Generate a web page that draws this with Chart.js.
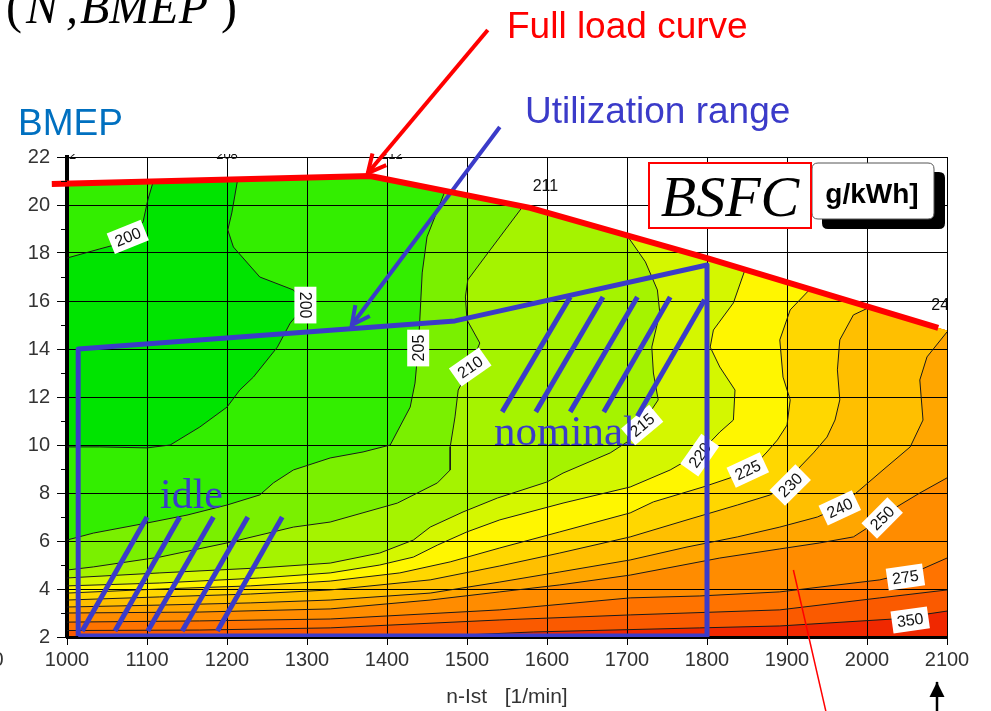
<!DOCTYPE html>
<html>
<head>
<meta charset="utf-8">
<title>BSFC map</title>
<script src="https://cdn.jsdelivr.net/npm/chart.js@4.4.1/dist/chart.umd.min.js"></script>
<style>
  html, body { margin: 0; padding: 0; background: #fff; }
  canvas { display: block; }
</style>
</head>
<body>
<canvas id="myChart" width="991" height="711"></canvas>
<script>
// axis ticks
const rpmTicks = [1000, 1100, 1200, 1300, 1400, 1500, 1600, 1700, 1800, 1900, 2000, 2100];
const bmepTicks = [2, 4, 6, 8, 10, 12, 14, 16, 18, 20, 22];
const bmepMinor = [3, 5, 7, 9, 11, 13, 15, 17, 19, 21];

// full load curve and utilization range, [rpm, bmep]
const fullLoad = [[981, 20.88], [1379, 21.21], [1579, 19.88], [1800, 17.79], [2089, 14.88]];
const utilRange = [[1014, 2.04], [1014, 14.0], [1485, 15.17], [1800, 17.5], [1800, 2.04], [1014, 2.04]];
const idleHatch = [[1019, 2.25, 1100, 7.0], [1060, 2.25, 1141, 7.0], [1101, 2.25, 1183, 7.0], [1144, 2.25, 1226, 7.0], [1188, 2.25, 1269, 7.0]];
const nominalHatch = [[1544, 11.38, 1629, 16.17], [1586, 11.38, 1670, 16.17], [1629, 11.38, 1713, 16.17], [1671, 11.38, 1754, 16.17], [1713, 11.2, 1797, 16.05]];
const redArrow = [[1526, 27.29], [1376, 21.33]];
const blueArrow = [[1541, 23.25], [1356, 15.0]];
const redPointer = [[1908, 4.79], [1950, -1.3]];
const speedMark = [[2087.5, -1.3], [2087.5, 0.13]];

// BSFC contour lines [g/kWh], [rpm, bmep]
const bsfc200a = [[1000, 17.79], [1041, 18.17], [1069, 18.42], [1095, 19.29], [1101, 20.21], [1108, 21.0]];
const bsfc200b = [[1213, 21.0], [1206, 19.67], [1201, 18.96], [1208, 18.25], [1241, 17.0], [1283, 16.46], [1298, 15.83], [1279, 15.08], [1263, 14.08], [1233, 12.83], [1216, 12.29], [1200, 11.58], [1166, 10.75], [1129, 10.0], [1100, 9.88], [1041, 9.92], [1000, 9.92]];
const bsfc205 = [[1473, 20.62], [1450, 18.67], [1444, 17.17], [1441, 15.21], [1439, 14.04], [1435, 12.58], [1429, 11.58], [1404, 10.0], [1370, 9.71], [1329, 9.46], [1283, 8.96], [1258, 8.42], [1241, 7.92], [1200, 7.5], [1150, 7.08], [1100, 6.75], [1033, 6.33], [1000, 6.04]];
const bsfc210 = [[1570, 19.95], [1529, 18.13], [1501, 16.88], [1498, 16.17], [1500, 15.21], [1516, 14.25], [1504, 13.25], [1489, 12.29], [1485, 11.17], [1479, 9.92], [1479, 8.96], [1463, 8.42], [1413, 7.58], [1329, 6.79], [1283, 6.58], [1200, 5.92], [1116, 5.33], [1033, 4.92], [1000, 4.79]];
const bsfc215 = [[1699, 18.78], [1723, 17.63], [1738, 16.46], [1741, 15.5], [1731, 14.08], [1733, 13.0], [1739, 11.88], [1729, 11.38], [1716, 10.92], [1704, 10.21], [1679, 9.67], [1620, 8.83], [1600, 8.46], [1538, 7.79], [1495, 7.21], [1454, 6.58], [1433, 6.04], [1391, 5.5], [1329, 5.08], [1241, 4.88], [1116, 4.67], [1000, 4.46]];
const bsfc220 = [[1848, 17.35], [1833, 15.92], [1808, 14.79], [1804, 14.08], [1816, 13.25], [1835, 12.29], [1833, 11.04], [1816, 10.54], [1791, 9.67], [1754, 8.96], [1704, 8.25], [1620, 7.58], [1541, 6.88], [1500, 6.38], [1463, 5.83], [1433, 5.33], [1391, 5.0], [1329, 4.67], [1241, 4.46], [1116, 4.25], [1000, 4.13]];
const bsfc225 = [[1929, 16.5], [1904, 15.63], [1891, 14.38], [1895, 12.83], [1904, 11.88], [1900, 10.83], [1888, 10.21], [1875, 9.71], [1854, 8.96], [1829, 8.63], [1795, 8.25], [1733, 7.63], [1704, 7.17], [1616, 6.38], [1541, 5.71], [1479, 5.13], [1416, 4.67], [1329, 4.33], [1229, 4.13], [1116, 4.0], [1000, 3.83]];
const bsfc230 = [[2004, 15.75], [1983, 15.42], [1966, 14.38], [1963, 13.13], [1966, 11.88], [1960, 11.04], [1950, 10.33], [1933, 9.67], [1916, 9.08], [1904, 8.42], [1879, 7.92], [1838, 7.5], [1775, 6.88], [1704, 6.17], [1616, 5.5], [1541, 4.96], [1454, 4.38], [1329, 3.96], [1229, 3.79], [1116, 3.67], [1000, 3.54]];
const bsfc240 = [[2100, 14.71], [2075, 13.67], [2066, 12.71], [2070, 11.04], [2054, 9.92], [2020, 8.96], [1991, 8.13], [1966, 7.42], [1938, 7.0], [1891, 6.58], [1838, 6.17], [1775, 5.75], [1704, 5.21], [1616, 4.71], [1541, 4.29], [1454, 3.83], [1329, 3.54], [1229, 3.42], [1116, 3.33], [1000, 3.25]];
const bsfc250 = [[2100, 8.63], [2066, 8.0], [2045, 7.58], [2025, 7.17], [2016, 6.88], [1983, 6.17], [1941, 5.92], [1891, 5.67], [1816, 5.29], [1704, 4.58], [1616, 4.17], [1541, 3.88], [1454, 3.54], [1329, 3.17], [1166, 3.04], [1000, 3.0]];
const bsfc275 = [[2100, 5.29], [2066, 4.79], [2016, 4.38], [1891, 3.88], [1791, 3.71], [1704, 3.63], [1541, 3.13], [1329, 2.75], [1166, 2.67], [1000, 2.62]];
const bsfc300 = [[2100, 3.96], [2016, 3.63], [1891, 3.13], [1704, 2.92], [1541, 2.71], [1329, 2.38], [1166, 2.29], [1000, 2.27]];
const bsfc350 = [[2100, 3.08], [2033, 2.75], [1891, 2.46], [1791, 2.38], [1583, 2.21], [1440, 2.0]];

const contourLabels = [
  { text: '200', rpm: 1076, bmep: 18.67, angle: -22 },
  { text: '200', rpm: 1298, bmep: 15.83, angle: 90 },
  { text: '205', rpm: 1439, bmep: 14.04, angle: -90 },
  { text: '210', rpm: 1504, bmep: 13.25, angle: -35 },
  { text: '215', rpm: 1719, bmep: 10.83, angle: -40 },
  { text: '220', rpm: 1791, bmep: 9.58, angle: -55 },
  { text: '225', rpm: 1851, bmep: 8.96, angle: -25 },
  { text: '230', rpm: 1904, bmep: 8.33, angle: -45 },
  { text: '240', rpm: 1966, bmep: 7.38, angle: -25 },
  { text: '250', rpm: 2019, bmep: 6.96, angle: -45 },
  { text: '275', rpm: 2048, bmep: 4.5, angle: -8 },
  { text: '350', rpm: 2054, bmep: 2.71, angle: -8 },
  { text: '211', rpm: 1598, bmep: 20.79, angle: 0, plain: true },
  { text: '240', rpm: 2097, bmep: 15.83, angle: 0, plain: true },
  { text: '2', rpm: 1007, bmep: 22.1, angle: 0, plain: true, small: true },
  { text: '208', rpm: 1200, bmep: 22.1, angle: 0, plain: true, small: true },
  { text: '212', rpm: 1406, bmep: 22.1, angle: 0, plain: true, small: true }
];

const SANS = '"Liberation Sans", Arial, sans-serif';
const SERIF = '"Liberation Serif", "Times New Roman", serif';
const BLUE = '#3B3BC9';
const RED = '#FF0000';

const toXY = arr => arr.map(p => ({ x: p[0], y: p[1] }));

// region "bsfc <= level": contour, then round the map edge back to its start
function regionBelow(edge) {
  const pts = toXY(edge);
  const first = edge[0];
  const last = edge[edge.length - 1];
  if (last[1] <= 2) {
    pts.push({ x: last[0], y: 1.5 }, { x: 980, y: 1.5 });
  } else {
    pts.push({ x: 980, y: last[1] });
  }
  fullLoad.forEach(p => { if (p[0] < first[0]) pts.push({ x: p[0], y: p[1] }); });
  if (first[0] >= 2100) pts.push({ x: 2120, y: 14.56 }, { x: 2120, y: first[1] });
  return pts;
}

const sweetSpot = toXY(bsfc200a).concat(toXY(bsfc200b), [{ x: 990, y: 9.92 }, { x: 990, y: 17.79 }]);
const envelope = toXY(fullLoad).concat([{ x: 2120, y: 14.56 }, { x: 2120, y: 1.5 }, { x: 980, y: 1.5 }]);

const fills = [
  { pts: sweetSpot, color: '#00E400' },
  { pts: regionBelow(bsfc205), color: '#33EE00' },
  { pts: regionBelow(bsfc210), color: '#7AF000' },
  { pts: regionBelow(bsfc215), color: '#A5F300' },
  { pts: regionBelow(bsfc220), color: '#D4F700' },
  { pts: regionBelow(bsfc225), color: '#FFF600' },
  { pts: regionBelow(bsfc230), color: '#FFD700' },
  { pts: regionBelow(bsfc240), color: '#FFBF00' },
  { pts: regionBelow(bsfc250), color: '#FFA600' },
  { pts: regionBelow(bsfc275), color: '#FF8C00' },
  { pts: regionBelow(bsfc300), color: '#FF7300' },
  { pts: regionBelow(bsfc350), color: '#FA5A00' },
  { pts: envelope, color: '#F02800' }
];

const contours = [bsfc200a, bsfc200b, bsfc205, bsfc210, bsfc215, bsfc220, bsfc225, bsfc230, bsfc240, bsfc250, bsfc275, bsfc300, bsfc350];

// dataset 0 is painted last (on top)
const datasets = [];
function addLine(data, color, width, extra) {
  datasets.push(Object.assign({
    data: toXY(data),
    borderColor: color,
    backgroundColor: color,
    borderWidth: width,
    pointRadius: 0,
    fill: false,
    tension: 0
  }, extra || {}));
}

addLine(utilRange, BLUE, 5, { borderJoinStyle: 'round' });
idleHatch.forEach(h => addLine([[h[0], h[1]], [h[2], h[3]]], BLUE, 5));
nominalHatch.forEach(h => addLine([[h[0], h[1]], [h[2], h[3]]], BLUE, 5));
addLine(fullLoad, RED, 6, { clip: false, borderJoinStyle: 'round' });
addLine(redArrow, RED, 4, { clip: false, arrowHead: { open: true, length: 18, width: 18 } });
addLine(blueArrow, BLUE, 4, { clip: false, arrowHead: { open: true, length: 18, width: 18 } });
addLine(redPointer, RED, 1.5, { clip: false });
addLine(speedMark, '#000', 2.5, { clip: false, arrowHead: { open: false, length: 15, width: 15 } });

const contourStart = datasets.length;
contours.forEach(c => addLine(c, '#1a1a1a', 1));

const fillStart = datasets.length;
fills.forEach(f => {
  datasets.push({
    data: f.pts,
    borderWidth: 0,
    backgroundColor: f.color,
    fill: 'shape',
    pointRadius: 0,
    tension: 0
  });
});

function drawContourLabels(chart) {
  const ctx = chart.ctx;
  const x = chart.scales.x, y = chart.scales.y;
  const area = chart.chartArea;
  contourLabels.forEach(l => {
    ctx.save();
    if (l.plain) {
      ctx.beginPath();
      ctx.rect(area.left, area.top - 3, area.right - area.left, area.bottom - area.top + 3);
      ctx.clip();
    }
    ctx.translate(x.getPixelForValue(l.rpm), y.getPixelForValue(l.bmep));
    ctx.rotate(l.angle * Math.PI / 180);
    ctx.font = (l.small ? 13 : 16) + 'px ' + SANS;
    const w = ctx.measureText(l.text).width;
    if (!l.plain) {
      ctx.fillStyle = '#fff';
      ctx.fillRect(-w / 2 - 5, -11, w + 10, 22);
    }
    ctx.fillStyle = '#111';
    ctx.textAlign = 'center';
    ctx.textBaseline = 'middle';
    ctx.fillText(l.text, 0, 1);
    ctx.restore();
  });
}

function drawArrowHeads(chart) {
  const ctx = chart.ctx;
  chart.data.datasets.forEach((ds, i) => {
    if (!ds.arrowHead) return;
    const pts = chart.getDatasetMeta(i).data;
    const a = pts[pts.length - 2], b = pts[pts.length - 1];
    const ang = Math.atan2(b.y - a.y, b.x - a.x);
    const L = ds.arrowHead.length, W = ds.arrowHead.width;
    ctx.save();
    ctx.translate(b.x, b.y);
    ctx.rotate(ang);
    ctx.beginPath();
    if (ds.arrowHead.open) {
      ctx.moveTo(-L, -W / 2);
      ctx.lineTo(0, 0);
      ctx.lineTo(-L, W / 2);
      ctx.strokeStyle = ds.borderColor;
      ctx.lineWidth = ds.borderWidth;
      ctx.lineJoin = 'miter';
      ctx.stroke();
    } else {
      ctx.moveTo(0, 0);
      ctx.lineTo(-L, -W / 2);
      ctx.lineTo(-L, W / 2);
      ctx.closePath();
      ctx.fillStyle = ds.borderColor;
      ctx.fill();
    }
    ctx.restore();
  });
}

function drawNotes(chart) {
  const ctx = chart.ctx;
  const x = chart.scales.x, y = chart.scales.y;
  ctx.save();

  // minor ticks on the BMEP axis
  ctx.strokeStyle = '#000';
  ctx.lineWidth = 1;
  bmepMinor.forEach(v => {
    const py = Math.round(y.getPixelForValue(v)) + 0.5;
    ctx.beginPath();
    ctx.moveTo(chart.chartArea.left - 6, py);
    ctx.lineTo(chart.chartArea.left, py);
    ctx.stroke();
  });

  // cut-off label left of the first rpm tick
  ctx.fillStyle = '#333';
  ctx.font = '20px ' + SANS;
  ctx.textAlign = 'center';
  ctx.textBaseline = 'middle';
  ctx.fillText('900', x.getPixelForValue(900), 660);

  ctx.textAlign = 'left';
  ctx.textBaseline = 'alphabetic';

  // (N, BMEP)
  ctx.fillStyle = '#000';
  ctx.font = '48px ' + SERIF;
  ctx.fillText('(', 6, 23);
  ctx.fillText(')', 221, 23);
  ctx.font = 'italic 48px ' + SERIF;
  ctx.fillText('N', 26, 23);
  ctx.fillText(',', 66, 23);
  ctx.fillText('BMEP', 80, 23);

  ctx.font = '37px ' + SANS;
  ctx.fillStyle = '#0070C0';
  ctx.fillText('BMEP', 18, 135);
  ctx.fillStyle = RED;
  ctx.fillText('Full load curve', 507, 38);
  ctx.fillStyle = BLUE;
  ctx.fillText('Utilization range', 525, 123);

  ctx.font = '42px ' + SERIF;
  ctx.fillText('idle', 160, 508);
  ctx.font = '43px ' + SERIF;
  ctx.fillText('nominal', 494, 445);

  // unit box with shadow
  const rr = (x0, y0, w, h, r) => {
    ctx.beginPath();
    ctx.moveTo(x0 + r, y0);
    ctx.lineTo(x0 + w - r, y0);
    ctx.quadraticCurveTo(x0 + w, y0, x0 + w, y0 + r);
    ctx.lineTo(x0 + w, y0 + h - r);
    ctx.quadraticCurveTo(x0 + w, y0 + h, x0 + w - r, y0 + h);
    ctx.lineTo(x0 + r, y0 + h);
    ctx.quadraticCurveTo(x0, y0 + h, x0, y0 + h - r);
    ctx.lineTo(x0, y0 + r);
    ctx.quadraticCurveTo(x0, y0, x0 + r, y0);
    ctx.closePath();
  };
  ctx.fillStyle = '#000';
  rr(822, 172, 123, 57, 6);
  ctx.fill();
  ctx.fillStyle = '#fff';
  rr(812, 163, 122, 56, 6);
  ctx.fill();
  ctx.strokeStyle = '#555';
  ctx.lineWidth = 1;
  ctx.stroke();
  ctx.fillStyle = '#000';
  ctx.font = 'bold 28px ' + SANS;
  ctx.textAlign = 'center';
  ctx.fillText('g/kWh]', 872, 203);

  // BSFC box
  ctx.fillStyle = '#fff';
  ctx.fillRect(648, 162, 164, 67);
  ctx.strokeStyle = RED;
  ctx.lineWidth = 2;
  ctx.strokeRect(649, 163, 162, 65);
  ctx.fillStyle = '#000';
  ctx.font = 'italic 58px ' + SERIF;
  ctx.fillText('BSFC', 730, 216);

  ctx.restore();
}

const mapPlugin = {
  id: 'bsfcMap',
  afterDatasetDraw(chart, args) {
    if (args.index === fillStart) {
      // grid and axis lines back on top of the colour map
      ['x', 'y'].forEach(id => {
        const s = chart.scales[id];
        s.drawGrid(chart.chartArea);
        if (typeof s.drawBorder === 'function') s.drawBorder();
      });
    }
    if (args.index === contourStart) drawContourLabels(chart);
  },
  afterDatasetsDraw(chart) {
    drawArrowHeads(chart);
    drawNotes(chart);
  }
};

const ctx = document.getElementById('myChart').getContext('2d');
const chart = new Chart(ctx, {
  type: 'line',
  data: { datasets: datasets },
  options: {
    responsive: false,
    animation: false,
    devicePixelRatio: 1,
    events: [],
    layout: { padding: { top: 157, right: 44, bottom: 0, left: 0 } },
    plugins: {
      legend: { display: false },
      tooltip: { enabled: false },
      title: { display: false }
    },
    scales: {
      x: {
        type: 'linear',
        min: 1000,
        max: 2100,
        afterBuildTicks: s => { s.ticks = rpmTicks.map(v => ({ value: v })); },
        afterFit: s => { s.height = 74; },
        grid: { color: '#000', lineWidth: 1, tickLength: 8 },
        border: { color: '#000', width: 3 },
        ticks: {
          color: '#333',
          font: { family: SANS, size: 20 },
          padding: 3,
          maxRotation: 0,
          autoSkip: false,
          callback: v => String(v)
        },
        title: {
          display: true,
          text: 'n-Ist   [1/min]',
          color: '#333',
          font: { family: SANS, size: 21 },
          padding: { top: 0, bottom: 1 }
        }
      },
      y: {
        type: 'linear',
        min: 2,
        max: 22,
        afterBuildTicks: s => { s.ticks = bmepTicks.map(v => ({ value: v })); },
        afterFit: s => { s.width = 67; },
        grid: { color: '#000', lineWidth: 1, tickLength: 10 },
        border: { color: '#000', width: 4 },
        ticks: { color: '#333', font: { family: SANS, size: 20 }, padding: 7, callback: v => String(v) }
      }
    }
  },
  plugins: [mapPlugin]
});
</script>
</body>
</html>
